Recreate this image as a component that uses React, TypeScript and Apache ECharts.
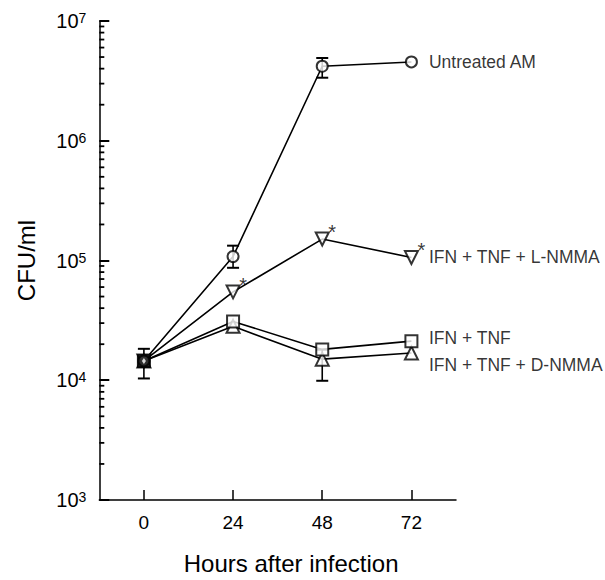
import React, { useEffect, useRef } from 'react';
import * as echarts from 'echarts';

// ---- data ----
const hours = [0, 24, 48, 72];
const untreatedAM = [14500, 108000, 4190000, 4550000];
const ifnTnfLNmma = [14500, 54700, 151000, 106000];
const ifnTnf = [14500, 31000, 18100, 21200];
const ifnTnfDNmma = [14500, 28200, 15000, 16900];
const seriesNames = ['Untreated AM', 'IFN + TNF + L-NMMA', 'IFN + TNF', 'IFN + TNF + D-NMMA'];
// [hour, low, high]
const errorBars: [number, number, number][] = [
  [0, 10350, 18300],
  [24, 86900, 133000],
  [48, 3360000, 4910000],
  [48, 9900, 18000],
];
const significantIdx = [1, 2, 3]; // L-NMMA points marked with *
const xTicks = [0, 24, 48, 72];
const yMinorTicks = [
  2e3, 3e3, 4e3, 5e3, 6e3, 7e3, 8e3, 9e3,
  2e4, 3e4, 4e4, 5e4, 6e4, 7e4, 8e4, 9e4,
  2e5, 3e5, 4e5, 5e5, 6e5, 7e5, 8e5, 9e5,
  2e6, 3e6, 4e6, 5e6, 6e6, 7e6, 8e6, 9e6,
];

const FONT = "'Liberation Sans', Arial, Helvetica, sans-serif";
const X_MIN = -12;
const X_MAX = 84;

export default function App() {
  const ref = useRef<HTMLDivElement>(null);

  useEffect(() => {
    if (!ref.current) return;
    const chart = echarts.init(ref.current, undefined, { renderer: 'svg' });

    const allSeries = [untreatedAM, ifnTnfLNmma, ifnTnf, ifnTnfDNmma];
    const toPts = (vals: number[]) => hours.map((h, i) => [h, vals[i]]);

    const lineSeries = allSeries.map((vals, k) => ({
      type: 'line',
      name: seriesNames[k],
      data: toPts(vals),
      symbol: 'none',
      lineStyle: { color: '#000', width: 1.6 },
      z: 1,
      silent: true,
    }));

    const markerStyle = { color: '#fff', borderColor: '#000', borderWidth: 2 };
    const markerSeries = [
      { vals: ifnTnfDNmma, symbol: 'triangle', size: 13, rotate: 0 },
      { vals: ifnTnf, symbol: 'rect', size: 12, rotate: 0 },
      { vals: ifnTnfLNmma, symbol: 'triangle', size: 13, rotate: 180 },
      { vals: untreatedAM, symbol: 'circle', size: 11, rotate: 0 },
    ].map((m, k) => ({
      type: 'scatter',
      data: toPts(m.vals),
      symbol: m.symbol,
      symbolSize: m.size,
      symbolRotate: m.rotate,
      itemStyle: markerStyle,
      z: 3 + k * 0.1,
      silent: true,
    }));

    const labelOffsets = [0, 0, -3, 12];
    const labelSeries = {
      type: 'scatter',
      symbolSize: 1,
      itemStyle: { color: 'rgba(0,0,0,0)' },
      z: 5,
      silent: true,
      data: allSeries.map((vals, k) => ({
        value: [hours[hours.length - 1], vals[vals.length - 1]],
        label: {
          show: true,
          position: 'right',
          distance: 17,
          offset: [0, labelOffsets[k]],
          formatter: seriesNames[k],
          color: '#000',
          fontSize: 17.5,
          fontFamily: FONT,
        },
      })),
    };

    const asteriskSeries = {
      type: 'scatter',
      symbolSize: 1,
      itemStyle: { color: 'rgba(0,0,0,0)' },
      z: 5,
      silent: true,
      data: significantIdx.map((i) => [hours[i], ifnTnfLNmma[i]]),
      label: {
        show: true,
        position: 'inside',
        formatter: '*',
        offset: [10, -7],
        color: '#000',
        fontSize: 20,
        fontFamily: FONT,
      },
    };

    const zeroOverlay = [
      {
        type: 'scatter',
        data: [[hours[0], untreatedAM[0]]],
        symbol: 'rect',
        symbolSize: 13,
        itemStyle: { color: '#000' },
        z: 4,
        silent: true,
      },
      {
        type: 'scatter',
        data: [[hours[0], untreatedAM[0]]],
        symbol: 'diamond',
        symbolSize: [4, 6],
        itemStyle: { color: '#fff' },
        z: 4.1,
        silent: true,
      },
    ];

    const errorSeries = {
      type: 'custom',
      data: errorBars,
      encode: { x: 0, y: [1, 2] },
      z: 2,
      silent: true,
      renderItem: (params: any, api: any) => {
        const x = api.value(0);
        const lo = api.coord([x, api.value(1)]);
        const hi = api.coord([x, api.value(2)]);
        const c = 6;
        return {
          type: 'group',
          children: [
            { type: 'line', shape: { x1: lo[0], y1: lo[1], x2: hi[0], y2: hi[1] }, style: { stroke: '#000', lineWidth: 1.6 } },
            { type: 'line', shape: { x1: hi[0] - c, y1: hi[1], x2: hi[0] + c, y2: hi[1] }, style: { stroke: '#000', lineWidth: 2 } },
            { type: 'line', shape: { x1: lo[0] - c, y1: lo[1], x2: lo[0] + c, y2: lo[1] }, style: { stroke: '#000', lineWidth: 2 } },
          ],
        };
      },
    };

    const minorTickSeries = {
      type: 'custom',
      data: yMinorTicks.map((v) => [X_MIN, v]),
      encode: { x: 0, y: 1 },
      clip: false,
      z: 2,
      silent: true,
      renderItem: (params: any, api: any) => {
        const p = api.coord([api.value(0), api.value(1)]);
        return {
          type: 'line',
          shape: { x1: p[0], y1: p[1], x2: p[0] + 5, y2: p[1] },
          style: { stroke: '#000', lineWidth: 1.8 },
        };
      },
    };

    chart.setOption({
      animation: false,
      backgroundColor: '#fff',
      grid: { left: 99.3, right: 149, top: 21, bottom: 74.3 },
      xAxis: {
        type: 'value',
        min: X_MIN,
        max: X_MAX,
        name: 'Hours after infection',
        nameLocation: 'middle',
        nameGap: 51,
        nameTextStyle: { fontSize: 24, fontFamily: FONT, color: '#000', padding: [0, 0, 0, 27] },
        axisLine: { show: true, onZero: false, lineStyle: { color: '#000', width: 1.5 } },
        axisTick: { show: true, inside: true, length: 10, customValues: xTicks, lineStyle: { color: '#000', width: 1.5 } },
        axisLabel: { customValues: xTicks, margin: 13, fontSize: 19, fontFamily: FONT, color: '#000' },
        splitLine: { show: false },
      },
      yAxis: {
        type: 'log',
        logBase: 10,
        min: 1e3,
        max: 1e7,
        name: 'CFU/ml',
        nameLocation: 'middle',
        nameGap: 61,
        nameRotate: 90,
        nameTextStyle: { fontSize: 24, fontFamily: FONT, color: '#000' },
        axisLine: { show: true, onZero: false, lineStyle: { color: '#000', width: 1.5 } },
        axisTick: { show: true, inside: true, length: 10, lineStyle: { color: '#000', width: 2 } },
        axisLabel: {
          margin: 13,
          color: '#000',
          formatter: (v: number) => `{b|10}{s|${Math.round(Math.log10(v))}}`,
          rich: {
            b: { fontSize: 20, fontFamily: FONT, color: '#000' },
            s: { fontSize: 14, fontFamily: FONT, color: '#000', verticalAlign: 'top' },
          },
        },
        splitLine: { show: false },
      },
      series: [
        ...lineSeries,
        errorSeries,
        minorTickSeries,
        ...markerSeries,
        ...zeroOverlay,
        labelSeries,
        asteriskSeries,
      ],
    });

    return () => chart.dispose();
  }, []);

  return (
    <div
      ref={ref}
      style={{ position: 'fixed', left: 0, top: 0, width: 605, height: 580, background: '#fff' }}
    />
  );
}
